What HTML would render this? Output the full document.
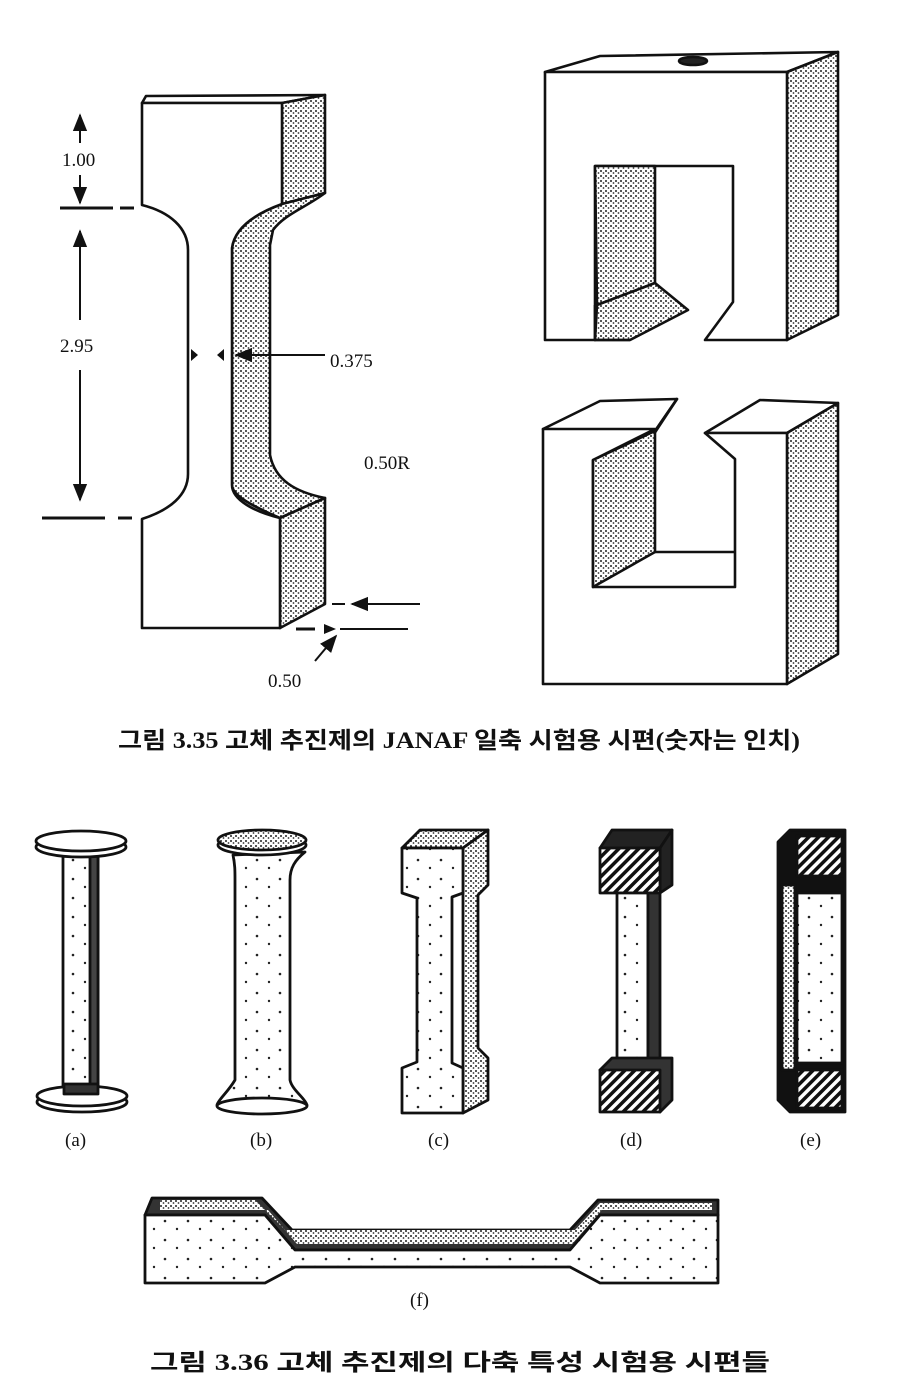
<!DOCTYPE html>
<html><head><meta charset="utf-8"><style>
html,body{margin:0;padding:0;background:#fff;}
svg{display:block;}
.l{font-family:"Liberation Serif",serif;font-size:19px;fill:#111;}
.c{font-family:"Liberation Serif","Noto Sans CJK KR",sans-serif;font-size:23px;fill:#111;font-weight:bold;}
</style></head><body>
<svg width="922" height="1392" viewBox="0 0 922 1392" xmlns="http://www.w3.org/2000/svg">
<defs>
<pattern id="dots" width="5" height="5" patternUnits="userSpaceOnUse">
<rect width="5" height="5" fill="#fff"/>
<circle cx="1" cy="1" r="1" fill="#222"/><circle cx="3.5" cy="3" r="0.9" fill="#333"/>
</pattern>
<pattern id="sparse" width="23" height="19" patternUnits="userSpaceOnUse">
<rect width="23" height="19" fill="#fff"/>
<circle cx="4" cy="5" r="1.3" fill="#222"/><circle cx="16" cy="13" r="1.2" fill="#222"/>
</pattern>
<pattern id="hatch" width="7" height="7" patternUnits="userSpaceOnUse" patternTransform="rotate(45)">
<rect width="7" height="7" fill="#fff"/><rect width="3.5" height="7" fill="#111"/>
</pattern>
<marker id="ah" viewBox="0 0 10 10" refX="9" refY="5" markerWidth="9" markerHeight="9" orient="auto-start-reverse"><path d="M0,1 L10,5 L0,9 Z" fill="#111"/></marker>
</defs>
<g stroke="#111" stroke-width="2.6" fill="#fff" stroke-linejoin="round">
<path d="M142,103 L146,96 L325,95 L282,103 Z"/>
<path d="M282,103 L325,95 L325,193 L282,204 Z" fill="url(#dots)"/>
<path d="M282,204 L325,193 C305,208 285,214 273,230 L270,245 L270,455 C275,480 295,492 325,498 L280,518 C250,505 232,495 232,485 L232,248 C235,225 260,212 282,204 Z" fill="url(#dots)"/>
<path d="M280,518 L325,498 L325,604 L280,628 Z" fill="url(#dots)"/>
<path d="M142,103 H282 V204 C260,212 235,225 232,248 V485 C232,500 255,512 280,518 V628 H142 V519 C170,510 188,495 188,474 V250 C188,228 170,212 142,205 Z"/>
<path d="M545,72 L600,56 L838,52 L787,72 Z"/>
<path d="M787,72 L838,52 L838,315 L787,340 Z" fill="url(#dots)"/>
<path d="M545,72 H787 V340 H705 L733,302 V166 H595 V340 H545 Z"/>
<path d="M595,166 H655 V283 L597,305 Z" fill="url(#dots)"/>
<path d="M597,305 L655,283 L688,310 L630,340 L595,340 Z" fill="url(#dots)"/>
<path d="M595,305 V340 H630" fill="none"/>
<ellipse cx="693" cy="61" rx="14" ry="4" fill="#222"/>
<path d="M543,429 L600,401 L677,399 L655,431 Z"/>
<path d="M655,431 L677,399 L650,440 L593,460 Z" fill="url(#dots)"/>
<path d="M705,433 L760,400 L838,403 L787,433 Z"/>
<path d="M787,433 L838,403 L838,654 L787,684 Z" fill="url(#dots)"/>
<path d="M543,429 H655 L593,460 V587 H735 V459 L705,433 H787 V684 H543 Z"/>
<path d="M593,460 L655,431 V552 L593,587 Z" fill="url(#dots)"/>
<path d="M655,552 H735" fill="none"/>
</g>
<g stroke="#111" stroke-width="2" fill="none">
<line x1="80" y1="115" x2="80" y2="143" marker-start="url(#ah)"/>
<line x1="80" y1="175" x2="80" y2="203" marker-end="url(#ah)"/>
<line x1="60" y1="208" x2="113" y2="208" stroke-width="3"/>
<line x1="120" y1="208" x2="134" y2="208" stroke-width="3"/>
<line x1="80" y1="231" x2="80" y2="320" marker-start="url(#ah)"/>
<line x1="80" y1="370" x2="80" y2="500" marker-end="url(#ah)"/>
<line x1="42" y1="518" x2="105" y2="518" stroke-width="3"/>
<line x1="118" y1="518" x2="132" y2="518" stroke-width="3"/>
<line x1="325" y1="355" x2="236" y2="355" marker-end="url(#ah)"/>
<line x1="420" y1="604" x2="352" y2="604" marker-end="url(#ah)"/>
<line x1="332" y1="604" x2="345" y2="604"/>
<line x1="408" y1="629" x2="340" y2="629"/>
<line x1="296" y1="629" x2="315" y2="629" stroke-width="3"/>
<line x1="315" y1="661" x2="336" y2="636" marker-end="url(#ah)"/>
</g>
<path d="M191,349 L198,355 L191,361 Z M224,349 L217,355 L224,361 Z M324,624 L336,629 L324,634 Z" fill="#111"/>
<text class="l" x="62" y="166">1.00</text>
<text class="l" x="60" y="352">2.95</text>
<text class="l" x="330" y="367">0.375</text>
<text class="l" x="364" y="469">0.50R</text>
<text class="l" x="268" y="687">0.50</text>
<text class="c" x="118" y="748" textLength="682" lengthAdjust="spacingAndGlyphs">그림 3.35  고체 추진제의 JANAF 일축 시험용 시편(숫자는 인치)</text>
<g stroke="#111" stroke-width="2.8" stroke-linejoin="round">
<rect x="63" y="852" width="35" height="240" fill="url(#sparse)"/>
<rect x="90" y="852" width="8" height="240" fill="#444"/>
<ellipse cx="81" cy="847" rx="45" ry="10" fill="#fff"/>
<ellipse cx="81" cy="841" rx="45" ry="10" fill="#fff"/>
<ellipse cx="82" cy="1102" rx="45" ry="10" fill="#fff"/>
<ellipse cx="82" cy="1096" rx="45" ry="10" fill="#fff"/>
<rect x="64" y="1084" width="34" height="10" fill="#333"/>
<path d="M233,855 C235,865 235,870 235,880 V1080 C228,1092 218,1100 217,1105 L307,1105 C305,1098 292,1090 290,1080 V880 C290,868 295,860 305,852 Z" fill="url(#sparse)"/>
<ellipse cx="262" cy="1106" rx="45" ry="8" fill="#fff"/>
<ellipse cx="262" cy="845" rx="44" ry="10" fill="#fff"/>
<ellipse cx="262" cy="840" rx="44" ry="10" fill="url(#dots)"/>
<path d="M402,848 L420,830 H488 L463,848 Z" fill="url(#dots)"/>
<path d="M463,848 L488,830 V885 L478,895 V1048 L488,1058 V1100 L463,1113 Z" fill="url(#dots)"/>
<path d="M402,848 H463 V893 L452,897 V1063 L463,1068 V1113 H402 V1068 L417,1062 V898 L402,893 Z" fill="url(#sparse)"/>
<path d="M600,848 L612,830 H672 L660,848 Z" fill="#222"/>
<path d="M660,848 L672,830 V885 L660,893 Z" fill="#222"/>
<rect x="600" y="848" width="60" height="45" fill="url(#hatch)"/>
<rect x="617" y="893" width="31" height="175" fill="url(#sparse)"/>
<path d="M648,893 H660 V1068 H648 Z" fill="#333"/>
<path d="M600,1070 L612,1058 H672 V1100 L660,1112 Z" fill="#333"/>
<rect x="600" y="1070" width="60" height="42" fill="url(#hatch)"/>
<path d="M778,842 L790,830 H845 V1112 H790 L778,1100 Z" fill="#111"/>
<rect x="797" y="836" width="45" height="40" fill="url(#hatch)"/>
<rect x="797" y="893" width="45" height="170" fill="url(#sparse)"/>
<rect x="782" y="885" width="13" height="185" fill="url(#dots)"/>
<rect x="797" y="1070" width="45" height="38" fill="url(#hatch)"/>
<path d="M145,1215 L152,1198 H262 L292,1230 H570 L598,1200 H718 V1215 H600 L570,1250 H295 L265,1215 Z" fill="#333"/>
<path d="M160,1200 H255 L285,1230 H575 L600,1203 H712 V1210 H602 L572,1244 H297 L268,1210 H160 Z" fill="url(#dots)" stroke="none"/>
<path d="M145,1215 H265 L295,1250 H570 L600,1215 H718 V1283 H600 L570,1267 H295 L265,1283 H145 Z" fill="url(#sparse)"/>
</g>
<text class="l" x="65" y="1146">(a)</text>
<text class="l" x="250" y="1146">(b)</text>
<text class="l" x="428" y="1146">(c)</text>
<text class="l" x="620" y="1146">(d)</text>
<text class="l" x="800" y="1146">(e)</text>
<text class="l" x="410" y="1306">(f)</text>
<text class="c" x="150" y="1370" textLength="620" lengthAdjust="spacingAndGlyphs">그림 3.36  고체 추진제의 다축 특성 시험용 시편들</text>
</svg>
</body></html>
